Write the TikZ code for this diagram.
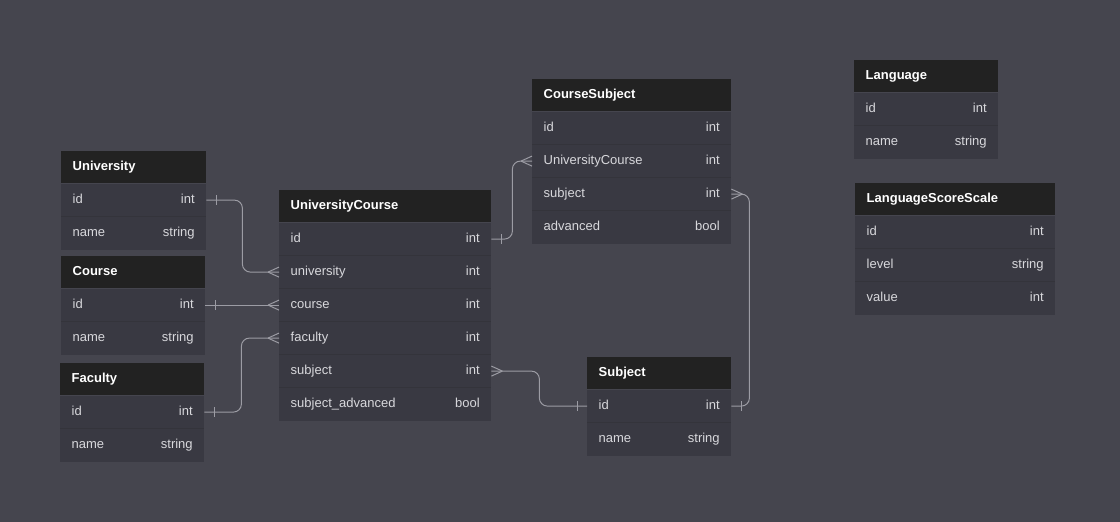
\documentclass[tikz,border=0pt]{standalone}
\usepackage{fontspec}
\setmainfont{Liberation Sans}
\usetikzlibrary{calc}
\definecolor{bgc}{HTML}{45454E}
\definecolor{hdrc}{HTML}{222222}
\definecolor{rowc}{HTML}{393942}
\definecolor{sepc}{HTML}{34343B}
\definecolor{fldc}{HTML}{D8D8DC}
\definecolor{connc}{HTML}{9C9CA4}
\tikzset{
  hdr/.style={fill=hdrc, text=white, font=\bfseries\fontsize{13}{15}\selectfont,
    anchor=north west, inner xsep=11.5pt, inner ysep=0pt, minimum height=32pt,
    text height=10pt, text depth=3pt},
  fld/.style={fill=rowc, text=fldc, font=\fontsize{13}{15}\selectfont,
    anchor=north, inner xsep=11.5pt, inner ysep=0pt, minimum height=33pt,
    text height=10pt, text depth=3pt},
  sep/.style={draw=sepc, line width=0.8pt},
  conn/.style={draw=connc, line width=1pt},
  route/.style={conn, rounded corners=8pt}
}
\newcommand\erdtable[5]{%
  \node[hdr] (#1) at (#2) {\hbox to #3pt{#4\hfill}};
  \foreach \k/\l/\t [count=\i] in {#5} {
    \node[fld] (#1-\k) at ($(#1.south)+(0,{33*(\i-1)})$) {\hbox to #3pt{\l\hfill\t}};
    \ifnum\i>1 \draw[sep] (#1-\k.north west) -- (#1-\k.north east);\fi
  }
}
\newcommand\crowW[1]{\draw[conn] ($(#1)+(-11,0)$) -- ($(#1)+(0,-5)$) ($(#1)+(-11,0)$) -- ($(#1)+(0,5)$);}
\newcommand\crowE[1]{\draw[conn] ($(#1)+(11,0)$) -- ($(#1)+(0,-5)$) ($(#1)+(11,0)$) -- ($(#1)+(0,5)$);}
\newcommand\barW[1]{\draw[conn] ($(#1)+(-10,-5)$) -- ($(#1)+(-10,5)$);}
\newcommand\barE[1]{\draw[conn] ($(#1)+(10,-5)$) -- ($(#1)+(10,5)$);}
\begin{document}
\begin{tikzpicture}[x=1pt,y=-1pt]
\fill[bgc] (0,0) rectangle (1120,522);
\useasboundingbox (0,0) rectangle (1120,522);

\erdtable{u}{61,151}{122}{University}{id/id/int, name/name/string}
\erdtable{c}{61,256}{121}{Course}{id/id/int, name/name/string}
\erdtable{f}{60,363}{121}{Faculty}{id/id/int, name/name/string}
\erdtable{uc}{279,190}{189}{UniversityCourse}{id/id/int, univ/university/int, course/course/int, fac/faculty/int, subj/subject/int, sadv/subject\_advanced/bool}
\erdtable{cs}{532,79}{176}{CourseSubject}{id/id/int, uc/UniversityCourse/int, subj/subject/int, adv/advanced/bool}
\erdtable{s}{587,357}{121}{Subject}{id/id/int, name/name/string}
\erdtable{l}{854,60}{121}{Language}{id/id/int, name/name/string}
\erdtable{lss}{855,183}{177}{LanguageScoreScale}{id/id/int, level/level/string, value/value/int}

% connectors
\draw[route] (u-id.east) -- ++(36,0) |- (uc-univ.west);
\barE{u-id.east} \crowW{uc-univ.west}
\draw[conn] (c-id.east) -- (uc-course.west);
\barE{c-id.east} \crowW{uc-course.west}
\draw[route] (f-id.east) -- ++(37,0) |- (uc-fac.west);
\barE{f-id.east} \crowW{uc-fac.west}
\draw[route] (uc-id.east) -- ++(21,0) |- (cs-uc.west);
\barE{uc-id.east} \crowW{cs-uc.west}
\draw[route] (uc-subj.east) -- ++(48,0) |- (s-id.west);
\crowE{uc-subj.east} \barW{s-id.west}
\draw[route] (cs-subj.east) -- ++(18,0) |- (s-id.east);
\crowE{cs-subj.east} \barE{s-id.east}
\end{tikzpicture}
\end{document}
